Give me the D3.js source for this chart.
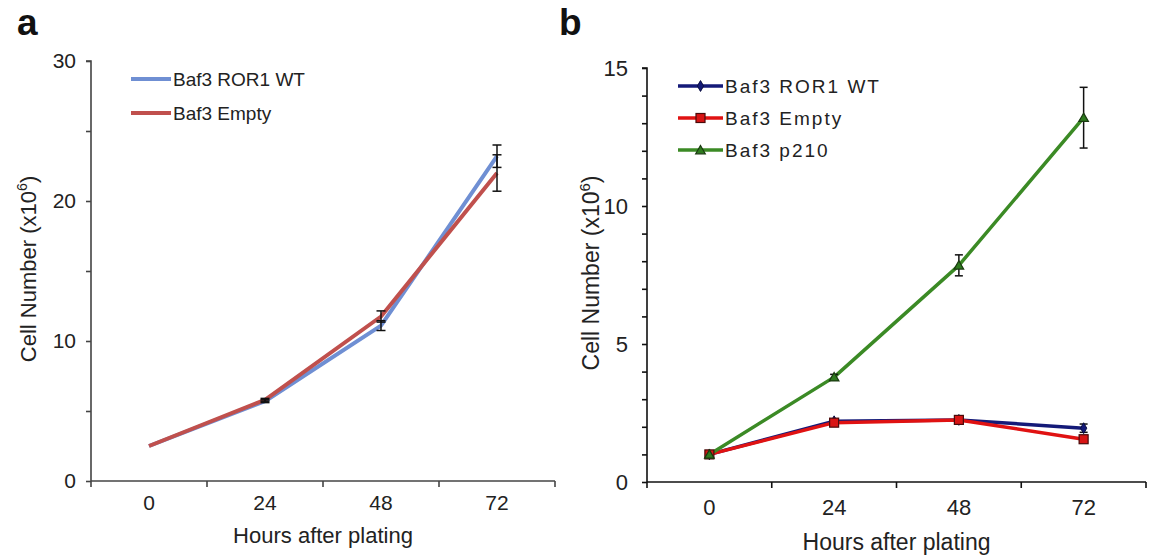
<!DOCTYPE html>
<html><head><meta charset="utf-8">
<script src="https://cdn.jsdelivr.net/npm/d3@7/dist/d3.min.js"></script>
<style>
html,body{margin:0;padding:0;background:#fff;}
svg{display:block;font-family:"Liberation Sans",Arial,sans-serif;}
</style></head>
<body>
<svg id="chart" width="1149" height="556"></svg>
<script>
// ---- Data ----
const hours = ["0", "24", "48", "72"];

// Panel a
const aWT    = [2.5, 5.7, 11.1, 23.2];
const aWTErr = [0, 0.1, 0.35, 0.8];
const aEmpty    = [2.5, 5.8, 11.75, 22.0];
const aEmptyErr = [0, 0.1, 0.4, 1.3];
const aTicks = [0, 5, 10, 15, 20, 25, 30];
const aLabels = ["Baf3 ROR1 WT", "Baf3 Empty"];

// Panel b
const bWT    = [1.0, 2.2, 2.25, 1.95];
const bWTErr = [0, 0.05, 0.05, 0.15];
const bEmpty    = [1.0, 2.15, 2.25, 1.55];
const bEmptyErr = [0, 0.05, 0.05, 0.1];
const bP210    = [1.0, 3.8, 7.85, 13.2];
const bP210Err = [0, 0.1, 0.38, 1.1];
const bTicks = [0,1,2,3,4,5,6,7,8,9,10,11,12,13,14,15];
const bLabels = ["Baf3 ROR1 WT", "Baf3 Empty", "Baf3 p210"];

const svg = d3.select("#chart");

function panel(cfg) {
  const g = svg.append("g");
  const x = d3.scaleBand().domain(hours).range([cfg.x0, cfg.x1]).padding(0);
  const y = d3.scaleLinear().domain([0, cfg.ymax]).range([cfg.y0, cfg.y1]);
  const cx = d => x(d) + x.bandwidth() / 2;

  // y axis
  const ya = g.append("g").attr("transform", `translate(${cfg.x0},0)`)
    .call(d3.axisLeft(y).tickValues(cfg.ticks).tickSize(5).tickPadding(cfg.yPad)
      .tickFormat(v => v % cfg.labelEvery === 0 ? v : ""));
  ya.select(".domain").attr("stroke", cfg.axisColor).attr("stroke-width", 1.6).attr("d", `M-5,${cfg.y1}H0V${cfg.y0}`);
  ya.selectAll(".tick line").attr("stroke", cfg.axisColor).attr("stroke-width", 1.6);
  ya.selectAll("text").attr("font-size", cfg.tickFont).attr("fill", "#222").attr("font-family", "Liberation Sans, Arial, sans-serif");

  // x axis labels
  const xa = g.append("g").attr("transform", `translate(0,${cfg.y0})`)
    .call(d3.axisBottom(x).tickSize(0).tickPadding(cfg.xPad));
  xa.select(".domain").remove();
  xa.selectAll("text").attr("font-size", cfg.tickFont).attr("fill", "#222").attr("font-family", "Liberation Sans, Arial, sans-serif");
  // x axis line and boundary ticks
  g.append("line").attr("x1", cfg.x0).attr("x2", cfg.x1).attr("y1", cfg.y0).attr("y2", cfg.y0)
    .attr("stroke", cfg.axisColor).attr("stroke-width", 1.6);
  const bounds = hours.map(h => x(h)).concat([cfg.x1]);
  g.selectAll(".xt").data(bounds).enter().append("line")
    .attr("x1", d => d).attr("x2", d => d).attr("y1", cfg.y0).attr("y2", cfg.y0 + 6)
    .attr("stroke", cfg.axisColor).attr("stroke-width", 1.6);

  // axis titles
  g.append("text").attr("x", (cfg.x0 + cfg.x1) / 2).attr("y", cfg.xTitleY)
    .attr("text-anchor", "middle").attr("font-size", cfg.titleFont).attr("fill", "#222")
    .text("Hours after plating");
  const yt = g.append("text")
    .attr("transform", `translate(${cfg.yTitleX},${cfg.yTitleY}) rotate(-90)`)
    .attr("text-anchor", "middle").attr("font-size", cfg.titleFont).attr("fill", "#222");
  yt.append("tspan").text("Cell Number (x10");
  yt.append("tspan").attr("font-size", cfg.titleFont * 0.65).attr("dy", -9).text("6");
  yt.append("tspan").attr("dy", 9).text(")");

  // panel letter
  g.append("text").attr("x", cfg.letterX).attr("y", 35).attr("font-size", 37)
    .attr("font-weight", "bold").attr("fill", "#111").text(cfg.letter);

  const line = d3.line().x((d, i) => cx(hours[i])).y(d => y(d));

  cfg.series.forEach(s => {
    g.append("path").datum(s.values).attr("d", line).attr("fill", "none")
      .attr("stroke", s.color).attr("stroke-width", cfg.lineWidth).attr("stroke-linejoin", "round");
  });
  // error bars
  cfg.series.forEach(s => {
    const eb = g.append("g");
    s.values.forEach((v, i) => {
      const e = s.err[i];
      if (!e) return;
      const px = cx(hours[i]);
      const hw = cfg.capW / 2;
      eb.append("line").attr("x1", px).attr("x2", px).attr("y1", y(v - e)).attr("y2", y(v + e))
        .attr("stroke", "#111").attr("stroke-width", 1.5);
      [v - e, v + e].forEach(t => eb.append("line").attr("x1", px - hw).attr("x2", px + hw)
        .attr("y1", y(t)).attr("y2", y(t)).attr("stroke", "#111").attr("stroke-width", 1.5));
    });
  });
  // markers
  cfg.series.forEach(s => {
    if (!s.marker) return;
    s.values.forEach((v, i) => drawMarker(g, s.marker, cx(hours[i]), y(v), s));
  });

  // legend
  cfg.series.forEach((s, i) => {
    const ly = cfg.legY + i * cfg.legStep;
    g.append("line").attr("x1", cfg.legX).attr("x2", cfg.legX + cfg.legLen).attr("y1", ly).attr("y2", ly)
      .attr("stroke", s.color).attr("stroke-width", cfg.lineWidth);
    if (s.marker) drawMarker(g, s.marker, cfg.legX + cfg.legLen / 2, ly, s);
    g.append("text").attr("x", cfg.legX + cfg.legLen + 2).attr("y", ly).attr("dy", "0.36em")
      .attr("font-size", cfg.legFont).attr("letter-spacing", cfg.legSpacing).attr("fill", "#222")
      .text(s.label);
  });
}

function drawMarker(g, type, px, py, s) {
  if (type === "diamond") {
    g.append("path").attr("d", d3.symbol(d3.symbolDiamond, 34)()).attr("transform", `translate(${px},${py})`)
      .attr("fill", s.fill).attr("stroke", s.mstroke).attr("stroke-width", 1);
  } else if (type === "square") {
    g.append("rect").attr("x", px - 4.5).attr("y", py - 4.5).attr("width", 9).attr("height", 9)
      .attr("fill", s.fill).attr("stroke", s.mstroke).attr("stroke-width", 1.2);
  } else if (type === "triangle") {
    g.append("path").attr("d", d3.symbol(d3.symbolTriangle, 40)()).attr("transform", `translate(${px},${py + 1})`)
      .attr("fill", s.fill).attr("stroke", s.mstroke).attr("stroke-width", 1.2);
  }
}

panel({
  letter: "a", letterX: 17,
  x0: 91, x1: 555, y0: 481, y1: 61, ymax: 30,
  ticks: aTicks, labelEvery: 10, yPad: 10, xPad: 14,
  axisColor: "#444", tickFont: 21, titleFont: 22,
  xTitleY: 543, yTitleX: 36, yTitleY: 269,
  lineWidth: 4, capW: 9,
  legX: 131, legLen: 40, legY: 79, legStep: 34, legFont: 19, legSpacing: 0,
  series: [
    {label: aLabels[0], values: aWT, err: aWTErr, color: "#6F8FD3"},
    {label: aLabels[1], values: aEmpty, err: aEmptyErr, color: "#C0504D"}
  ]
});

panel({
  letter: "b", letterX: 559,
  x0: 647, x1: 1146, y0: 482, y1: 68, ymax: 15,
  ticks: bTicks, labelEvery: 5, yPad: 14, xPad: 17,
  axisColor: "#111", tickFont: 22, titleFont: 23,
  xTitleY: 550, yTitleX: 599, yTitleY: 273,
  lineWidth: 3.5, capW: 8,
  legX: 678, legLen: 45, legY: 86, legStep: 32, legFont: 19, legSpacing: 2,
  series: [
    {label: bLabels[0], values: bWT, err: bWTErr, color: "#141A78", marker: "diamond", fill: "#141A78", mstroke: "#0a0d40"},
    {label: bLabels[1], values: bEmpty, err: bEmptyErr, color: "#E01212", marker: "square", fill: "#D81414", mstroke: "#4a0a0a"},
    {label: bLabels[2], values: bP210, err: bP210Err, color: "#3B8A25", marker: "triangle", fill: "#2E7A1E", mstroke: "#1a3a10"}
  ]
});
</script>
</body></html>
